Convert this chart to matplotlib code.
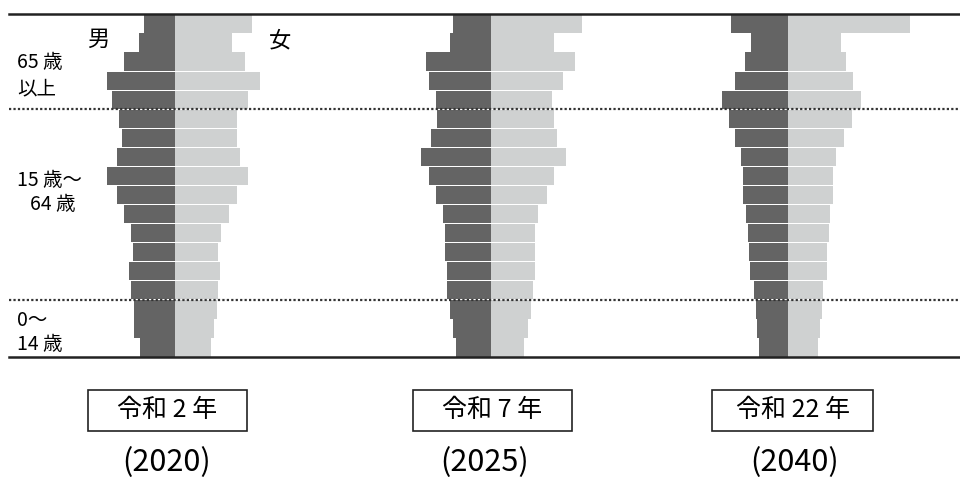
import numpy as np
import matplotlib.pyplot as plt
from matplotlib.patches import Rectangle

plt.rcParams['font.family'] = ['Noto Sans CJK JP', 'DejaVu Sans']

# age groups 0-4 ... 85+ (bottom to top)
ages = ["0-4", "5-9", "10-14", "15-19", "20-24", "25-29", "30-34", "35-39", "40-44",
        "45-49", "50-54", "55-59", "60-64", "65-69", "70-74", "75-79", "80-84", "85+"]

male_2020 = [35, 41, 41, 44, 46, 42, 44, 51, 58, 68, 58, 53, 56, 63, 68, 51, 36, 31]
female_2020 = [36, 39, 42, 43, 45, 43, 46, 54, 62, 73, 65, 62, 62, 73, 85, 70, 57, 77]
male_2025 = [35, 38, 41, 44, 44, 46, 46, 48, 55, 62, 70, 60, 54, 55, 62, 65, 41, 38]
female_2025 = [33, 37, 40, 42, 44, 44, 44, 47, 56, 63, 75, 66, 63, 61, 72, 84, 63, 91]
male_2040 = [29, 31, 32, 34, 38, 39, 40, 42, 45, 45, 47, 53, 59, 66, 53, 43, 37, 57]
female_2040 = [30, 32, 34, 35, 39, 39, 41, 42, 45, 45, 48, 56, 64, 73, 65, 58, 53, 122]

era_labels = ["令和 2 年", "令和 7 年", "令和 22 年"]
year_labels = ["(2020)", "(2025)", "(2040)"]

W, H = 960, 483
fig = plt.figure(figsize=(W / 100, H / 100), dpi=100)

def fx(px):
    return px / W

def fy(py):
    return 1 - py / H

top_px, bot_px = 14, 357
panels = [(175, male_2020, female_2020), (491, male_2025, female_2025), (788, male_2040, female_2040)]
y = np.arange(len(ages)) + 0.5

for cx, male, female in panels:
    ax = fig.add_axes([fx(cx - 150), fy(bot_px), 300 / W, (bot_px - top_px) / H])
    ax.barh(y, -np.array(male), height=0.96, color="#646464", linewidth=0)
    ax.barh(y, female, height=0.96, color="#cfd1d1", linewidth=0)
    ax.set_xlim(-150, 150)
    ax.set_ylim(0, len(ages))
    ax.axis("off")

# frame lines and age-band separators on top
bg = fig.add_axes([fx(9), fy(bot_px), 1 - fx(9), (bot_px - top_px) / H])
bg.set_zorder(5)
bg.patch.set_alpha(0)
bg.set_xlim(0, 1)
bg.set_ylim(0, len(ages))
bg.axis("off")
bg.axhline(len(ages), color="#222222", lw=1.8, clip_on=False)
bg.axhline(0, color="#222222", lw=1.8, clip_on=False)
bg.axhline(13, color="#333333", lw=1.6, ls=(0, (1, 1)), clip_on=False)
bg.axhline(3, color="#333333", lw=1.6, ls=(0, (1, 1)), clip_on=False)

fig.text(fx(98), fy(39), "男", fontsize=16, ha="center", va="center")
fig.text(fx(280), fy(41), "女", fontsize=16, ha="center", va="center")

side = [("65 歳", 17, 63), ("以上", 17, 89), ("15 歳～", 17, 180), ("64 歳", 30, 204),
        ("0～", 17, 320), ("14 歳", 17, 344)]
for txt, x0, y0 in side:
    fig.text(fx(x0), fy(y0), txt, fontsize=14, ha="left", va="center")

boxes = [(88, 247), (413, 572), (712, 873)]
year_x = [167, 485, 795]
for (x0, x1), era, yr, yx in zip(boxes, era_labels, year_labels, year_x):
    fig.add_artist(Rectangle((fx(x0), fy(431)), (x1 - x0) / W, 41 / H,
                             transform=fig.transFigure, fill=False, lw=1.2, ec="#222222"))
    fig.text(fx((x0 + x1) / 2), fy(410), era, fontsize=18, ha="center", va="center")
    fig.text(fx(yx), fy(463), yr, fontsize=22, ha="center", va="center")

fig.savefig("out.png", dpi=100)
